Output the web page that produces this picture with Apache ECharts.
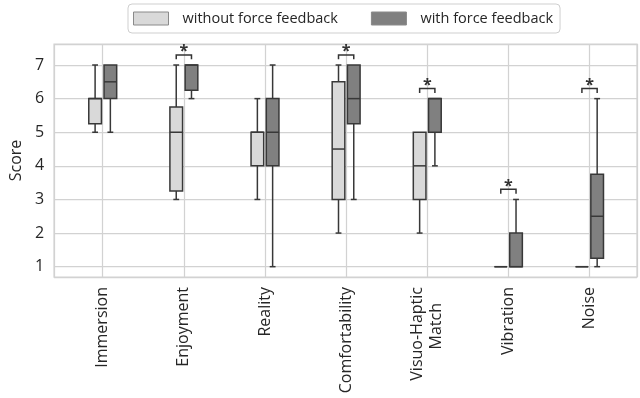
<!DOCTYPE html>
<html>
<head>
<meta charset="utf-8">
<script src="https://cdn.jsdelivr.net/npm/echarts@6/dist/echarts.min.js"></script>
<style>
html,body{margin:0;padding:0;background:#fff;}
#chart{width:640px;height:398px;}
</style>
</head>
<body>
<div id="chart"></div>
<script>
// ---- data ----
const categories = ['Immersion', 'Enjoyment', 'Reality', 'Comfortability', 'Visuo-Haptic\nMatch', 'Vibration', 'Noise'];
const seriesNames = ['without force feedback', 'with force feedback'];
// [whisker low, Q1, median, Q3, whisker high]
const withoutFF = [
  [5, 5.25, 6, 6, 7],
  [3, 3.25, 5, 5.75, 7],
  [3, 4, 5, 5, 6],
  [2, 3, 4.5, 6.5, 7],
  [2, 3, 4, 5, 5],
  [1, 1, 1, 1, 1],
  [1, 1, 1, 1, 1]
];
const withFF = [
  [5, 6, 6.5, 7, 7],
  [6, 6.25, 7, 7, 7],
  [1, 4, 5, 6, 7],
  [3, 5.25, 6, 7, 7],
  [4, 5, 6, 6, 6],
  [1, 1, 1, 2, 3],
  [1, 1.25, 2.5, 3.75, 6]
];
const significant = [1, 3, 4, 5, 6];
const yTicks = [1, 2, 3, 4, 5, 6, 7];

// ---- styling constants ----
const FONT = '"Open Sans", sans-serif';
const TXT = '#262626';
const EDGE = '#383838';
const LIGHT = '#d9d9d9';
const DARK = '#808080';
const OFFSET = 0.094;
const HALF_W = 0.078;
const CAP_HALF = 0.036;

function boxRender(offset, fill) {
  return function (params, api) {
    const x = api.value(0) + offset;
    const lo = api.value(1), q1 = api.value(2), med = api.value(3), q3 = api.value(4), hi = api.value(5);
    const cx = api.coord([x, med])[0];
    const hw = api.size([HALF_W, 0])[0];
    const cw = api.size([CAP_HALF, 0])[0];
    const yLo = api.coord([x, lo])[1];
    const yQ1 = api.coord([x, q1])[1];
    const yMed = api.coord([x, med])[1];
    const yQ3 = api.coord([x, q3])[1];
    const yHi = api.coord([x, hi])[1];
    const ls = { stroke: EDGE, lineWidth: 1.5, fill: null };
    const children = [];
    if (hi > q3) {
      children.push({ type: 'line', shape: { x1: cx, y1: yQ3, x2: cx, y2: yHi }, style: ls });
      children.push({ type: 'line', shape: { x1: cx - cw, y1: yHi, x2: cx + cw, y2: yHi }, style: ls });
    }
    if (lo < q1) {
      children.push({ type: 'line', shape: { x1: cx, y1: yQ1, x2: cx, y2: yLo }, style: ls });
      children.push({ type: 'line', shape: { x1: cx - cw, y1: yLo, x2: cx + cw, y2: yLo }, style: ls });
    }
    children.push({ type: 'rect', shape: { x: cx - hw, y: yQ3, width: 2 * hw, height: yQ1 - yQ3 },
      style: { fill: fill, stroke: EDGE, lineWidth: 1.5 } });
    children.push({ type: 'line', shape: { x1: cx - hw, y1: yMed, x2: cx + hw, y2: yMed }, style: ls });
    return { type: 'group', children: children };
  };
}

function sigRender(params, api) {
  const i = api.value(0);
  const top = api.value(1);
  const y = api.coord([i, top + 0.3])[1];
  const yTick = api.coord([i, top + 0.17])[1];
  const x1 = api.coord([i - OFFSET, top])[0];
  const x2 = api.coord([i + OFFSET, top])[0];
  const ls = { stroke: '#333', lineWidth: 1.5, fill: null };
  return {
    type: 'group',
    children: [
      { type: 'polyline', shape: { points: [[x1, yTick], [x1, y], [x2, y], [x2, yTick]] }, style: ls },
      { type: 'text', x: (x1 + x2) / 2, y: y - 3,
        style: { text: '*', fill: '#333', font: 'bold 16px ' + FONT, align: 'center', verticalAlign: 'middle' } }
    ]
  };
}

const sigData = significant.map(i => [i, Math.max(withoutFF[i][4], withFF[i][4])]);

const chart = echarts.init(document.getElementById('chart'), null, { renderer: 'canvas' });
chart.setOption({
  animation: false,
  backgroundColor: '#fff',
  textStyle: { fontFamily: FONT, color: TXT },
  grid: { left: 52, right: 3, top: 44, bottom: 121, show: true, borderColor: '#d2d2d2', borderWidth: 1.25, containLabel: false },
  legend: {
    data: seriesNames,
    left: 128, top: 4,
    icon: 'rect', itemWidth: 35, itemHeight: 13, itemGap: 33,
    padding: [7, 7, 7, 5],
    borderColor: '#cfcfcf', borderWidth: 1, borderRadius: 4,
    itemStyle: { borderColor: '#8a8a8a', borderWidth: 1 },
    textStyle: { fontFamily: FONT, fontSize: 14.5, color: TXT, padding: [0, 0, 0, 9] }
  },
  xAxis: {
    type: 'value', min: -0.6, max: 6.585, minInterval: 1, maxInterval: 1,
    axisLine: { show: false }, axisTick: { show: false },
    splitLine: { show: true, lineStyle: { color: '#d2d2d2', width: 1.25 } },
    axisLabel: {
      rotate: 90, margin: 10, fontSize: 16, fontFamily: FONT, color: TXT,
      formatter: function (v) {
        if (!Number.isInteger(v) || !categories[v]) return '';
        const parts = categories[v].split('\n');
        if (parts.length === 1) return parts[0];
        return '{a|' + parts[0] + '}\n{b|' + parts[1] + '}';
      },
      rich: {
        a: { fontSize: 16, fontFamily: FONT, color: TXT, lineHeight: 19 },
        b: { fontSize: 16, fontFamily: FONT, color: TXT, lineHeight: 19, padding: [0, 16, 0, 0] }
      }
    }
  },
  yAxis: {
    type: 'value', min: 0.693, max: 7.625, minInterval: 1, maxInterval: 1,
    name: 'Score', nameLocation: 'middle', nameGap: 24, nameRotate: 90,
    nameTextStyle: { fontSize: 16, fontFamily: FONT, color: TXT },
    axisLine: { show: false }, axisTick: { show: false },
    splitLine: { show: true, lineStyle: { color: '#d2d2d2', width: 1.25 } },
    axisLabel: {
      margin: 10, fontSize: 16, fontFamily: FONT, color: TXT,
      formatter: function (v) { return yTicks.indexOf(v) >= 0 ? String(v) : ''; }
    }
  },
  series: [
    { name: seriesNames[0], type: 'custom', itemStyle: { color: LIGHT },
      renderItem: boxRender(-OFFSET, LIGHT), encode: { x: 0, y: [1, 2, 3, 4, 5] },
      data: withoutFF.map((d, i) => [i].concat(d)) },
    { name: seriesNames[1], type: 'custom', itemStyle: { color: DARK },
      renderItem: boxRender(OFFSET, DARK), encode: { x: 0, y: [1, 2, 3, 4, 5] },
      data: withFF.map((d, i) => [i].concat(d)) },
    { name: 'sig', type: 'custom', renderItem: sigRender, encode: { x: 0, y: 1 }, clip: false,
      data: sigData, z: 5 }
  ]
});
</script>
</body>
</html>
